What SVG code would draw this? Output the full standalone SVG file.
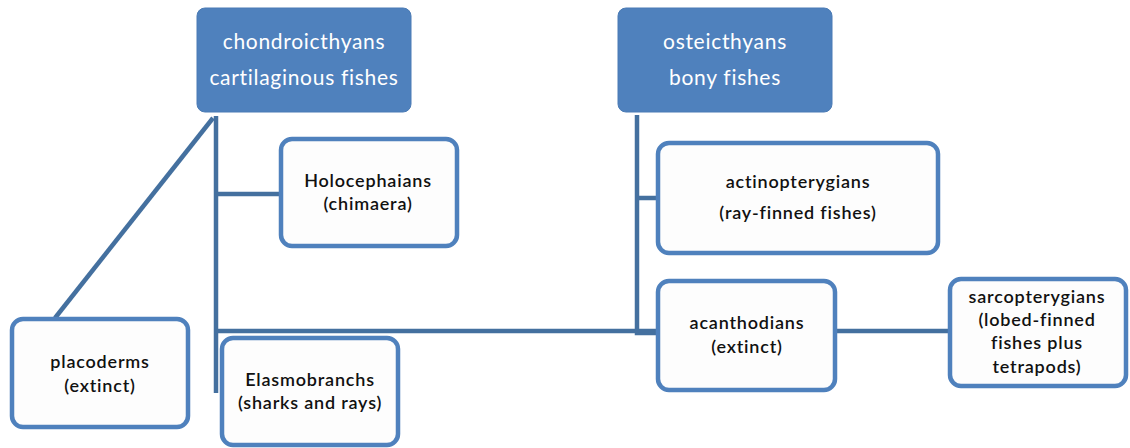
<svg xmlns="http://www.w3.org/2000/svg" width="1130" height="448" viewBox="0 0 1130 448">
<style>
.top{fill:#4f81bd;stroke:#4a7bb5;stroke-width:1}
.box{fill:#fdfdfd;stroke:#4f81bd;stroke-width:4.5}
.ln{stroke:#44709f;stroke-width:4.5;fill:none}
.tw{font-family:Lato,"Liberation Sans",sans-serif;font-size:21px;letter-spacing:0.7px;fill:#ffffff;text-anchor:middle}
.tb{font-family:Lato,"Liberation Sans",sans-serif;font-size:18px;letter-spacing:0.8px;font-weight:600;fill:#111111;text-anchor:middle}
</style>
<rect width="1130" height="448" fill="#ffffff"/>
<g id="connectors">
<path class="ln" d="M216 116 V393 M216 194 H281 M216 331 H658"/>
<path class="ln" d="M213 118 L55 318"/>
<path d="M55 318 L14 371" stroke="#c9d6e8" stroke-width="3" fill="none"/>
<path class="ln" d="M637 115 V333 H658 M637 198 H658 M835 331 H950"/>
</g>
<g id="chondroicthyans">
<rect class="top" x="197" y="8" width="214" height="104" rx="8"/>
<text class="tw" x="304" y="49">chondroicthyans</text>
<text class="tw" x="304" y="85">cartilaginous fishes</text>
</g>
<g id="osteicthyans">
<rect class="top" x="618" y="8" width="214" height="104" rx="8"/>
<text class="tw" x="725" y="49">osteicthyans</text>
<text class="tw" x="725" y="85">bony fishes</text>
</g>
<g id="holocephaians">
<rect class="box" x="281" y="139" width="176" height="107" rx="11"/>
<text class="tb" x="368" y="187">Holocephaians</text>
<text class="tb" x="368" y="210">(chimaera)</text>
</g>
<g id="placoderms">
<rect class="box" x="12" y="319" width="176" height="108" rx="11"/>
<text class="tb" x="100" y="368">placoderms</text>
<text class="tb" x="100" y="392">(extinct)</text>
</g>
<g id="elasmobranchs">
<rect class="box" x="222" y="338" width="176" height="107" rx="11"/>
<text class="tb" x="310" y="386">Elasmobranchs</text>
<text class="tb" x="310" y="409">(sharks and rays)</text>
</g>
<g id="actinopterygians">
<rect class="box" x="658" y="143" width="280" height="110" rx="11"/>
<text class="tb" x="798" y="188">actinopterygians</text>
<text class="tb" x="798" y="219">(ray-finned fishes)</text>
</g>
<g id="acanthodians">
<rect class="box" x="658" y="281" width="177" height="109" rx="11"/>
<text class="tb" x="747" y="329">acanthodians</text>
<text class="tb" x="747" y="353">(extinct)</text>
</g>
<g id="sarcopterygians">
<rect class="box" x="950" y="279" width="176" height="107" rx="11"/>
<text class="tb" x="1037" y="303">sarcopterygians</text>
<text class="tb" x="1037" y="326">(lobed-finned</text>
<text class="tb" x="1037" y="349">fishes plus</text>
<text class="tb" x="1037" y="373">tetrapods)</text>
</g>
</svg>
